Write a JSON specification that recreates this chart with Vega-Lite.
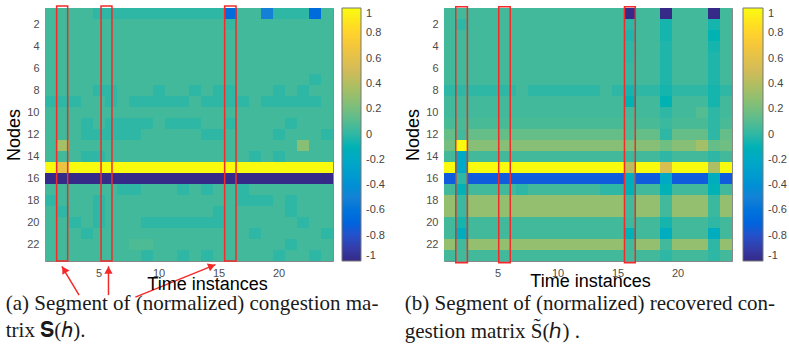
{
"$schema":"https://vega.github.io/schema/vega-lite/v6.json",
"background":"white",
"padding":{"left":5,"top":4,"right":2,"bottom":2},
"config":{
 "view":{"stroke":"#888888","strokeWidth":1,"fill":"#3fb89c"},
 "axis":{"domain":false,"ticks":false,"grid":false,"labelAngle":0,"labelFont":"Liberation Sans","labelFontSize":11,"labelColor":"#4d4d4d","labelPadding":6,"titleFont":"Liberation Sans","titleFontSize":18,"titleFontWeight":"normal","titleColor":"#000000"},
 "axisY":{"titlePadding":3},
 "title":{"font":"Liberation Serif","fontSize":21,"fontWeight":"normal","color":"#1a1a1a","lineHeight":27.5}
},
"datasets":{
"L":[
{"t":1,"n":1,"v":0.05},{"t":2,"n":1,"v":0.05},{"t":3,"n":1,"v":0.05},{"t":4,"n":1,"v":0.05},{"t":5,"n":1,"v":0},{"t":6,"n":1,"v":0},{"t":7,"n":1,"v":0},{"t":8,"n":1,"v":0},{"t":9,"n":1,"v":0},{"t":10,"n":1,"v":0},{"t":11,"n":1,"v":0},{"t":12,"n":1,"v":0},{"t":13,"n":1,"v":0},{"t":14,"n":1,"v":0},{"t":15,"n":1,"v":0},{"t":16,"n":1,"v":-0.65},{"t":17,"n":1,"v":0.05},{"t":18,"n":1,"v":0.05},{"t":19,"n":1,"v":-0.5},{"t":20,"n":1,"v":0},{"t":21,"n":1,"v":0},{"t":22,"n":1,"v":0},{"t":23,"n":1,"v":-0.65},{"t":24,"n":1,"v":0.05},
{"t":1,"n":2,"v":0.05},{"t":2,"n":2,"v":0.05},{"t":3,"n":2,"v":0.05},{"t":4,"n":2,"v":0.05},{"t":5,"n":2,"v":0.05},{"t":6,"n":2,"v":0.05},{"t":7,"n":2,"v":0.05},{"t":8,"n":2,"v":0.05},{"t":9,"n":2,"v":0.05},{"t":10,"n":2,"v":0.05},{"t":11,"n":2,"v":0.05},{"t":12,"n":2,"v":0.05},{"t":13,"n":2,"v":0.05},{"t":14,"n":2,"v":0.05},{"t":15,"n":2,"v":0.05},{"t":16,"n":2,"v":0.02},{"t":17,"n":2,"v":0.05},{"t":18,"n":2,"v":0.05},{"t":19,"n":2,"v":0.05},{"t":20,"n":2,"v":0.05},{"t":21,"n":2,"v":0.05},{"t":22,"n":2,"v":0.05},{"t":23,"n":2,"v":0.05},{"t":24,"n":2,"v":0.05},
{"t":1,"n":3,"v":0.05},{"t":2,"n":3,"v":0.05},{"t":3,"n":3,"v":0.05},{"t":4,"n":3,"v":0.05},{"t":5,"n":3,"v":0.05},{"t":6,"n":3,"v":0.05},{"t":7,"n":3,"v":0.05},{"t":8,"n":3,"v":0.05},{"t":9,"n":3,"v":0.05},{"t":10,"n":3,"v":0.05},{"t":11,"n":3,"v":0.05},{"t":12,"n":3,"v":0.05},{"t":13,"n":3,"v":0.05},{"t":14,"n":3,"v":0.05},{"t":15,"n":3,"v":0.05},{"t":16,"n":3,"v":0.05},{"t":17,"n":3,"v":0.05},{"t":18,"n":3,"v":0.05},{"t":19,"n":3,"v":0.05},{"t":20,"n":3,"v":0.05},{"t":21,"n":3,"v":0.05},{"t":22,"n":3,"v":0.05},{"t":23,"n":3,"v":0.05},{"t":24,"n":3,"v":0.05},
{"t":1,"n":4,"v":0.05},{"t":2,"n":4,"v":0.05},{"t":3,"n":4,"v":0.05},{"t":4,"n":4,"v":0.05},{"t":5,"n":4,"v":0.05},{"t":6,"n":4,"v":0.05},{"t":7,"n":4,"v":0.05},{"t":8,"n":4,"v":0.05},{"t":9,"n":4,"v":0.05},{"t":10,"n":4,"v":0.05},{"t":11,"n":4,"v":0.05},{"t":12,"n":4,"v":0.05},{"t":13,"n":4,"v":0.05},{"t":14,"n":4,"v":0.05},{"t":15,"n":4,"v":0.05},{"t":16,"n":4,"v":0.05},{"t":17,"n":4,"v":0.05},{"t":18,"n":4,"v":0.05},{"t":19,"n":4,"v":0.05},{"t":20,"n":4,"v":0.05},{"t":21,"n":4,"v":0.05},{"t":22,"n":4,"v":0.05},{"t":23,"n":4,"v":0.05},{"t":24,"n":4,"v":0.05},
{"t":1,"n":5,"v":0.05},{"t":2,"n":5,"v":0.05},{"t":3,"n":5,"v":0.05},{"t":4,"n":5,"v":0.05},{"t":5,"n":5,"v":0.05},{"t":6,"n":5,"v":0.05},{"t":7,"n":5,"v":0.05},{"t":8,"n":5,"v":0.05},{"t":9,"n":5,"v":0.05},{"t":10,"n":5,"v":0.05},{"t":11,"n":5,"v":0.05},{"t":12,"n":5,"v":0.05},{"t":13,"n":5,"v":0.05},{"t":14,"n":5,"v":0.05},{"t":15,"n":5,"v":0.05},{"t":16,"n":5,"v":0.05},{"t":17,"n":5,"v":0.05},{"t":18,"n":5,"v":0.05},{"t":19,"n":5,"v":0.05},{"t":20,"n":5,"v":0.05},{"t":21,"n":5,"v":0.05},{"t":22,"n":5,"v":0.05},{"t":23,"n":5,"v":0.05},{"t":24,"n":5,"v":0.05},
{"t":1,"n":6,"v":0.05},{"t":2,"n":6,"v":0.05},{"t":3,"n":6,"v":0.05},{"t":4,"n":6,"v":0.05},{"t":5,"n":6,"v":0.05},{"t":6,"n":6,"v":0.05},{"t":7,"n":6,"v":0.05},{"t":8,"n":6,"v":0.05},{"t":9,"n":6,"v":0.05},{"t":10,"n":6,"v":0.05},{"t":11,"n":6,"v":0.05},{"t":12,"n":6,"v":0.05},{"t":13,"n":6,"v":0.05},{"t":14,"n":6,"v":0.05},{"t":15,"n":6,"v":0.05},{"t":16,"n":6,"v":0.05},{"t":17,"n":6,"v":0.05},{"t":18,"n":6,"v":0.05},{"t":19,"n":6,"v":0.05},{"t":20,"n":6,"v":0.05},{"t":21,"n":6,"v":0.05},{"t":22,"n":6,"v":0.05},{"t":23,"n":6,"v":0.05},{"t":24,"n":6,"v":0.05},
{"t":1,"n":7,"v":0.05},{"t":2,"n":7,"v":0.05},{"t":3,"n":7,"v":0.05},{"t":4,"n":7,"v":0.05},{"t":5,"n":7,"v":0.05},{"t":6,"n":7,"v":0.05},{"t":7,"n":7,"v":0.05},{"t":8,"n":7,"v":0.05},{"t":9,"n":7,"v":0.05},{"t":10,"n":7,"v":0.05},{"t":11,"n":7,"v":0.05},{"t":12,"n":7,"v":0.05},{"t":13,"n":7,"v":0.05},{"t":14,"n":7,"v":0.05},{"t":15,"n":7,"v":0.05},{"t":16,"n":7,"v":0.05},{"t":17,"n":7,"v":0.05},{"t":18,"n":7,"v":0.05},{"t":19,"n":7,"v":0.05},{"t":20,"n":7,"v":0.05},{"t":21,"n":7,"v":0.05},{"t":22,"n":7,"v":0.05},{"t":23,"n":7,"v":0},{"t":24,"n":7,"v":0.05},
{"t":1,"n":8,"v":0.05},{"t":2,"n":8,"v":0.05},{"t":3,"n":8,"v":0.05},{"t":4,"n":8,"v":0.05},{"t":5,"n":8,"v":0},{"t":6,"n":8,"v":0},{"t":7,"n":8,"v":0.05},{"t":8,"n":8,"v":0.05},{"t":9,"n":8,"v":0.05},{"t":10,"n":8,"v":0},{"t":11,"n":8,"v":0.05},{"t":12,"n":8,"v":0.05},{"t":13,"n":8,"v":0},{"t":14,"n":8,"v":0.05},{"t":15,"n":8,"v":0},{"t":16,"n":8,"v":0},{"t":17,"n":8,"v":0.05},{"t":18,"n":8,"v":0.05},{"t":19,"n":8,"v":0.05},{"t":20,"n":8,"v":0},{"t":21,"n":8,"v":0.05},{"t":22,"n":8,"v":0},{"t":23,"n":8,"v":0.05},{"t":24,"n":8,"v":0.05},
{"t":1,"n":9,"v":0},{"t":2,"n":9,"v":0},{"t":3,"n":9,"v":0},{"t":4,"n":9,"v":0.05},{"t":5,"n":9,"v":0.05},{"t":6,"n":9,"v":0},{"t":7,"n":9,"v":0.05},{"t":8,"n":9,"v":0},{"t":9,"n":9,"v":0},{"t":10,"n":9,"v":0},{"t":11,"n":9,"v":0},{"t":12,"n":9,"v":0},{"t":13,"n":9,"v":0.05},{"t":14,"n":9,"v":0},{"t":15,"n":9,"v":0},{"t":16,"n":9,"v":0},{"t":17,"n":9,"v":0},{"t":18,"n":9,"v":0.05},{"t":19,"n":9,"v":0},{"t":20,"n":9,"v":0},{"t":21,"n":9,"v":0},{"t":22,"n":9,"v":0},{"t":23,"n":9,"v":0},{"t":24,"n":9,"v":0.05},
{"t":1,"n":10,"v":0.05},{"t":2,"n":10,"v":0.05},{"t":3,"n":10,"v":0.05},{"t":4,"n":10,"v":0.05},{"t":5,"n":10,"v":0.05},{"t":6,"n":10,"v":0.05},{"t":7,"n":10,"v":0.05},{"t":8,"n":10,"v":0.05},{"t":9,"n":10,"v":0.05},{"t":10,"n":10,"v":0.05},{"t":11,"n":10,"v":0.05},{"t":12,"n":10,"v":0.05},{"t":13,"n":10,"v":0.05},{"t":14,"n":10,"v":0.05},{"t":15,"n":10,"v":0.05},{"t":16,"n":10,"v":0.05},{"t":17,"n":10,"v":0.05},{"t":18,"n":10,"v":0.05},{"t":19,"n":10,"v":0.05},{"t":20,"n":10,"v":0.05},{"t":21,"n":10,"v":0.05},{"t":22,"n":10,"v":0.05},{"t":23,"n":10,"v":0.05},{"t":24,"n":10,"v":0.05},
{"t":1,"n":11,"v":0.05},{"t":2,"n":11,"v":0.05},{"t":3,"n":11,"v":0.05},{"t":4,"n":11,"v":0},{"t":5,"n":11,"v":0.05},{"t":6,"n":11,"v":0},{"t":7,"n":11,"v":0},{"t":8,"n":11,"v":0},{"t":9,"n":11,"v":0},{"t":10,"n":11,"v":0.05},{"t":11,"n":11,"v":0},{"t":12,"n":11,"v":0},{"t":13,"n":11,"v":0},{"t":14,"n":11,"v":0.05},{"t":15,"n":11,"v":0.05},{"t":16,"n":11,"v":0},{"t":17,"n":11,"v":0.05},{"t":18,"n":11,"v":0.05},{"t":19,"n":11,"v":0.05},{"t":20,"n":11,"v":0.05},{"t":21,"n":11,"v":0},{"t":22,"n":11,"v":0.05},{"t":23,"n":11,"v":0.05},{"t":24,"n":11,"v":0.05},
{"t":1,"n":12,"v":0.05},{"t":2,"n":12,"v":0.05},{"t":3,"n":12,"v":0.05},{"t":4,"n":12,"v":0},{"t":5,"n":12,"v":0},{"t":6,"n":12,"v":0},{"t":7,"n":12,"v":0},{"t":8,"n":12,"v":0},{"t":9,"n":12,"v":0.05},{"t":10,"n":12,"v":0.05},{"t":11,"n":12,"v":0.05},{"t":12,"n":12,"v":0.05},{"t":13,"n":12,"v":0.05},{"t":14,"n":12,"v":0},{"t":15,"n":12,"v":0},{"t":16,"n":12,"v":0.05},{"t":17,"n":12,"v":0.05},{"t":18,"n":12,"v":0.05},{"t":19,"n":12,"v":0.05},{"t":20,"n":12,"v":0},{"t":21,"n":12,"v":0.05},{"t":22,"n":12,"v":0.05},{"t":23,"n":12,"v":0.05},{"t":24,"n":12,"v":0},
{"t":1,"n":13,"v":0.05},{"t":2,"n":13,"v":0.35},{"t":3,"n":13,"v":0.05},{"t":4,"n":13,"v":0.05},{"t":5,"n":13,"v":0.05},{"t":6,"n":13,"v":0.05},{"t":7,"n":13,"v":0.05},{"t":8,"n":13,"v":0.05},{"t":9,"n":13,"v":0.05},{"t":10,"n":13,"v":0.05},{"t":11,"n":13,"v":0.05},{"t":12,"n":13,"v":0.05},{"t":13,"n":13,"v":0.05},{"t":14,"n":13,"v":0.05},{"t":15,"n":13,"v":0.05},{"t":16,"n":13,"v":0.05},{"t":17,"n":13,"v":0.05},{"t":18,"n":13,"v":0.05},{"t":19,"n":13,"v":0.05},{"t":20,"n":13,"v":0.05},{"t":21,"n":13,"v":0.05},{"t":22,"n":13,"v":0.25},{"t":23,"n":13,"v":0.05},{"t":24,"n":13,"v":0.05},
{"t":1,"n":14,"v":0.05},{"t":2,"n":14,"v":0.05},{"t":3,"n":14,"v":0.05},{"t":4,"n":14,"v":0},{"t":5,"n":14,"v":0},{"t":6,"n":14,"v":0.05},{"t":7,"n":14,"v":0.05},{"t":8,"n":14,"v":0.05},{"t":9,"n":14,"v":0.05},{"t":10,"n":14,"v":0.05},{"t":11,"n":14,"v":0.05},{"t":12,"n":14,"v":0.05},{"t":13,"n":14,"v":0.05},{"t":14,"n":14,"v":0.05},{"t":15,"n":14,"v":0.05},{"t":16,"n":14,"v":0.05},{"t":17,"n":14,"v":0.05},{"t":18,"n":14,"v":0},{"t":19,"n":14,"v":0.05},{"t":20,"n":14,"v":0},{"t":21,"n":14,"v":0.05},{"t":22,"n":14,"v":0.05},{"t":23,"n":14,"v":0.05},{"t":24,"n":14,"v":0.05},
{"t":1,"n":15,"v":1},{"t":2,"n":15,"v":0.65},{"t":3,"n":15,"v":1},{"t":4,"n":15,"v":1},{"t":5,"n":15,"v":1},{"t":6,"n":15,"v":1},{"t":7,"n":15,"v":1},{"t":8,"n":15,"v":1},{"t":9,"n":15,"v":1},{"t":10,"n":15,"v":1},{"t":11,"n":15,"v":1},{"t":12,"n":15,"v":1},{"t":13,"n":15,"v":1},{"t":14,"n":15,"v":1},{"t":15,"n":15,"v":1},{"t":16,"n":15,"v":1},{"t":17,"n":15,"v":1},{"t":18,"n":15,"v":1},{"t":19,"n":15,"v":1},{"t":20,"n":15,"v":1},{"t":21,"n":15,"v":1},{"t":22,"n":15,"v":1},{"t":23,"n":15,"v":1},{"t":24,"n":15,"v":1},
{"t":1,"n":16,"v":-1},{"t":2,"n":16,"v":-1},{"t":3,"n":16,"v":-1},{"t":4,"n":16,"v":-1},{"t":5,"n":16,"v":-1},{"t":6,"n":16,"v":-1},{"t":7,"n":16,"v":-1},{"t":8,"n":16,"v":-1},{"t":9,"n":16,"v":-1},{"t":10,"n":16,"v":-1},{"t":11,"n":16,"v":-1},{"t":12,"n":16,"v":-1},{"t":13,"n":16,"v":-1},{"t":14,"n":16,"v":-1},{"t":15,"n":16,"v":-1},{"t":16,"n":16,"v":-1},{"t":17,"n":16,"v":-1},{"t":18,"n":16,"v":-1},{"t":19,"n":16,"v":-1},{"t":20,"n":16,"v":-1},{"t":21,"n":16,"v":-1},{"t":22,"n":16,"v":-1},{"t":23,"n":16,"v":-1},{"t":24,"n":16,"v":-1},
{"t":1,"n":17,"v":0.05},{"t":2,"n":17,"v":0.05},{"t":3,"n":17,"v":0.05},{"t":4,"n":17,"v":0.05},{"t":5,"n":17,"v":0.05},{"t":6,"n":17,"v":0.05},{"t":7,"n":17,"v":0},{"t":8,"n":17,"v":0},{"t":9,"n":17,"v":0.05},{"t":10,"n":17,"v":0.05},{"t":11,"n":17,"v":0.05},{"t":12,"n":17,"v":0},{"t":13,"n":17,"v":0.05},{"t":14,"n":17,"v":0},{"t":15,"n":17,"v":0.05},{"t":16,"n":17,"v":0.05},{"t":17,"n":17,"v":0},{"t":18,"n":17,"v":0.05},{"t":19,"n":17,"v":0.05},{"t":20,"n":17,"v":0.05},{"t":21,"n":17,"v":0.05},{"t":22,"n":17,"v":0.05},{"t":23,"n":17,"v":0.05},{"t":24,"n":17,"v":0.05},
{"t":1,"n":18,"v":0},{"t":2,"n":18,"v":0.05},{"t":3,"n":18,"v":0.05},{"t":4,"n":18,"v":0.05},{"t":5,"n":18,"v":0},{"t":6,"n":18,"v":0.05},{"t":7,"n":18,"v":0.05},{"t":8,"n":18,"v":0.05},{"t":9,"n":18,"v":0.05},{"t":10,"n":18,"v":0.05},{"t":11,"n":18,"v":0.05},{"t":12,"n":18,"v":0.05},{"t":13,"n":18,"v":0.05},{"t":14,"n":18,"v":0.05},{"t":15,"n":18,"v":0.05},{"t":16,"n":18,"v":0.05},{"t":17,"n":18,"v":0},{"t":18,"n":18,"v":0},{"t":19,"n":18,"v":0},{"t":20,"n":18,"v":0.05},{"t":21,"n":18,"v":0},{"t":22,"n":18,"v":0.05},{"t":23,"n":18,"v":0.05},{"t":24,"n":18,"v":0.05},
{"t":1,"n":19,"v":0.05},{"t":2,"n":19,"v":0},{"t":3,"n":19,"v":0.05},{"t":4,"n":19,"v":0.05},{"t":5,"n":19,"v":0},{"t":6,"n":19,"v":0.05},{"t":7,"n":19,"v":0.05},{"t":8,"n":19,"v":0.05},{"t":9,"n":19,"v":0.05},{"t":10,"n":19,"v":0.05},{"t":11,"n":19,"v":0.05},{"t":12,"n":19,"v":0.05},{"t":13,"n":19,"v":0.05},{"t":14,"n":19,"v":0.05},{"t":15,"n":19,"v":0},{"t":16,"n":19,"v":0.05},{"t":17,"n":19,"v":0.05},{"t":18,"n":19,"v":0.05},{"t":19,"n":19,"v":0.05},{"t":20,"n":19,"v":0.05},{"t":21,"n":19,"v":0},{"t":22,"n":19,"v":0.05},{"t":23,"n":19,"v":0.05},{"t":24,"n":19,"v":0.05},
{"t":1,"n":20,"v":0.05},{"t":2,"n":20,"v":0.05},{"t":3,"n":20,"v":0},{"t":4,"n":20,"v":0.05},{"t":5,"n":20,"v":0},{"t":6,"n":20,"v":0.05},{"t":7,"n":20,"v":0.05},{"t":8,"n":20,"v":0.05},{"t":9,"n":20,"v":0},{"t":10,"n":20,"v":0},{"t":11,"n":20,"v":0},{"t":12,"n":20,"v":0},{"t":13,"n":20,"v":0},{"t":14,"n":20,"v":0},{"t":15,"n":20,"v":0},{"t":16,"n":20,"v":0.05},{"t":17,"n":20,"v":0.05},{"t":18,"n":20,"v":0.05},{"t":19,"n":20,"v":0.05},{"t":20,"n":20,"v":0.05},{"t":21,"n":20,"v":0.05},{"t":22,"n":20,"v":0},{"t":23,"n":20,"v":0.05},{"t":24,"n":20,"v":0.05},
{"t":1,"n":21,"v":0.05},{"t":2,"n":21,"v":0.05},{"t":3,"n":21,"v":0.05},{"t":4,"n":21,"v":0},{"t":5,"n":21,"v":0.05},{"t":6,"n":21,"v":0.05},{"t":7,"n":21,"v":0.05},{"t":8,"n":21,"v":0.05},{"t":9,"n":21,"v":0.05},{"t":10,"n":21,"v":0.05},{"t":11,"n":21,"v":0.05},{"t":12,"n":21,"v":0.05},{"t":13,"n":21,"v":0.05},{"t":14,"n":21,"v":0.05},{"t":15,"n":21,"v":0.05},{"t":16,"n":21,"v":0.05},{"t":17,"n":21,"v":0.05},{"t":18,"n":21,"v":0},{"t":19,"n":21,"v":0.05},{"t":20,"n":21,"v":0.05},{"t":21,"n":21,"v":0.05},{"t":22,"n":21,"v":0.05},{"t":23,"n":21,"v":0.05},{"t":24,"n":21,"v":0},
{"t":1,"n":22,"v":0.05},{"t":2,"n":22,"v":0.05},{"t":3,"n":22,"v":0.05},{"t":4,"n":22,"v":0.05},{"t":5,"n":22,"v":0.05},{"t":6,"n":22,"v":0.05},{"t":7,"n":22,"v":0.05},{"t":8,"n":22,"v":0.08},{"t":9,"n":22,"v":0.08},{"t":10,"n":22,"v":0.05},{"t":11,"n":22,"v":0.05},{"t":12,"n":22,"v":0.05},{"t":13,"n":22,"v":0.05},{"t":14,"n":22,"v":0.05},{"t":15,"n":22,"v":0.05},{"t":16,"n":22,"v":0.05},{"t":17,"n":22,"v":0.05},{"t":18,"n":22,"v":0.05},{"t":19,"n":22,"v":0.05},{"t":20,"n":22,"v":0.05},{"t":21,"n":22,"v":0},{"t":22,"n":22,"v":0.05},{"t":23,"n":22,"v":0.05},{"t":24,"n":22,"v":0.05},
{"t":1,"n":23,"v":0.05},{"t":2,"n":23,"v":0.05},{"t":3,"n":23,"v":0.05},{"t":4,"n":23,"v":0.05},{"t":5,"n":23,"v":0.05},{"t":6,"n":23,"v":0.05},{"t":7,"n":23,"v":0.05},{"t":8,"n":23,"v":0.05},{"t":9,"n":23,"v":0},{"t":10,"n":23,"v":0.05},{"t":11,"n":23,"v":0.05},{"t":12,"n":23,"v":0},{"t":13,"n":23,"v":0.05},{"t":14,"n":23,"v":0},{"t":15,"n":23,"v":0.05},{"t":16,"n":23,"v":0.05},{"t":17,"n":23,"v":0.05},{"t":18,"n":23,"v":0.05},{"t":19,"n":23,"v":0.05},{"t":20,"n":23,"v":0},{"t":21,"n":23,"v":0.05},{"t":22,"n":23,"v":0.05},{"t":23,"n":23,"v":0},{"t":24,"n":23,"v":0.05}
],
"R":[
{"t":1,"n":1,"v":0.05},{"t":2,"n":1,"v":0.05},{"t":3,"n":1,"v":0.05},{"t":4,"n":1,"v":0.05},{"t":5,"n":1,"v":0.05},{"t":6,"n":1,"v":0.05},{"t":7,"n":1,"v":0.05},{"t":8,"n":1,"v":0.05},{"t":9,"n":1,"v":0.05},{"t":10,"n":1,"v":0.05},{"t":11,"n":1,"v":0.05},{"t":12,"n":1,"v":0.05},{"t":13,"n":1,"v":0.05},{"t":14,"n":1,"v":0.05},{"t":15,"n":1,"v":0.05},{"t":16,"n":1,"v":-1},{"t":17,"n":1,"v":0.05},{"t":18,"n":1,"v":0.05},{"t":19,"n":1,"v":-1},{"t":20,"n":1,"v":0.05},{"t":21,"n":1,"v":0.05},{"t":22,"n":1,"v":0.05},{"t":23,"n":1,"v":-1},{"t":24,"n":1,"v":0.05},
{"t":1,"n":2,"v":0.05},{"t":2,"n":2,"v":0},{"t":3,"n":2,"v":0.05},{"t":4,"n":2,"v":0.05},{"t":5,"n":2,"v":0.05},{"t":6,"n":2,"v":0.05},{"t":7,"n":2,"v":0.05},{"t":8,"n":2,"v":0.05},{"t":9,"n":2,"v":0.05},{"t":10,"n":2,"v":0.05},{"t":11,"n":2,"v":0.05},{"t":12,"n":2,"v":0.05},{"t":13,"n":2,"v":0.05},{"t":14,"n":2,"v":0.05},{"t":15,"n":2,"v":0.05},{"t":16,"n":2,"v":0},{"t":17,"n":2,"v":0.05},{"t":18,"n":2,"v":0.05},{"t":19,"n":2,"v":-0.05},{"t":20,"n":2,"v":0.05},{"t":21,"n":2,"v":0.05},{"t":22,"n":2,"v":0.05},{"t":23,"n":2,"v":-0.05},{"t":24,"n":2,"v":0.05},
{"t":1,"n":3,"v":0.05},{"t":2,"n":3,"v":0.05},{"t":3,"n":3,"v":0.05},{"t":4,"n":3,"v":0.05},{"t":5,"n":3,"v":0.05},{"t":6,"n":3,"v":0.05},{"t":7,"n":3,"v":0.05},{"t":8,"n":3,"v":0.05},{"t":9,"n":3,"v":0.05},{"t":10,"n":3,"v":0.05},{"t":11,"n":3,"v":0.05},{"t":12,"n":3,"v":0.05},{"t":13,"n":3,"v":0.05},{"t":14,"n":3,"v":0.05},{"t":15,"n":3,"v":0.05},{"t":16,"n":3,"v":-0.03},{"t":17,"n":3,"v":0.05},{"t":18,"n":3,"v":0.05},{"t":19,"n":3,"v":-0.05},{"t":20,"n":3,"v":0.05},{"t":21,"n":3,"v":0.05},{"t":22,"n":3,"v":0.05},{"t":23,"n":3,"v":-0.08},{"t":24,"n":3,"v":0.05},
{"t":1,"n":4,"v":0.05},{"t":2,"n":4,"v":0.05},{"t":3,"n":4,"v":0.05},{"t":4,"n":4,"v":0.05},{"t":5,"n":4,"v":0.05},{"t":6,"n":4,"v":0.05},{"t":7,"n":4,"v":0.05},{"t":8,"n":4,"v":0.05},{"t":9,"n":4,"v":0.05},{"t":10,"n":4,"v":0.05},{"t":11,"n":4,"v":0.05},{"t":12,"n":4,"v":0.05},{"t":13,"n":4,"v":0.05},{"t":14,"n":4,"v":0.05},{"t":15,"n":4,"v":0.05},{"t":16,"n":4,"v":0},{"t":17,"n":4,"v":0.05},{"t":18,"n":4,"v":0.05},{"t":19,"n":4,"v":-0.03},{"t":20,"n":4,"v":0.05},{"t":21,"n":4,"v":0.05},{"t":22,"n":4,"v":0.05},{"t":23,"n":4,"v":-0.05},{"t":24,"n":4,"v":0.05},
{"t":1,"n":5,"v":0.05},{"t":2,"n":5,"v":0.05},{"t":3,"n":5,"v":0.05},{"t":4,"n":5,"v":0.05},{"t":5,"n":5,"v":0.05},{"t":6,"n":5,"v":0.05},{"t":7,"n":5,"v":0.05},{"t":8,"n":5,"v":0.05},{"t":9,"n":5,"v":0.05},{"t":10,"n":5,"v":0.05},{"t":11,"n":5,"v":0.05},{"t":12,"n":5,"v":0.05},{"t":13,"n":5,"v":0.05},{"t":14,"n":5,"v":0.05},{"t":15,"n":5,"v":0.05},{"t":16,"n":5,"v":0},{"t":17,"n":5,"v":0.05},{"t":18,"n":5,"v":0.05},{"t":19,"n":5,"v":-0.03},{"t":20,"n":5,"v":0.05},{"t":21,"n":5,"v":0.05},{"t":22,"n":5,"v":0.05},{"t":23,"n":5,"v":-0.03},{"t":24,"n":5,"v":0.05},
{"t":1,"n":6,"v":0.05},{"t":2,"n":6,"v":0.05},{"t":3,"n":6,"v":0.05},{"t":4,"n":6,"v":0.05},{"t":5,"n":6,"v":0.05},{"t":6,"n":6,"v":0.05},{"t":7,"n":6,"v":0.05},{"t":8,"n":6,"v":0.05},{"t":9,"n":6,"v":0.05},{"t":10,"n":6,"v":0.05},{"t":11,"n":6,"v":0.05},{"t":12,"n":6,"v":0.05},{"t":13,"n":6,"v":0.05},{"t":14,"n":6,"v":0.05},{"t":15,"n":6,"v":0.05},{"t":16,"n":6,"v":0.02},{"t":17,"n":6,"v":0.05},{"t":18,"n":6,"v":0.05},{"t":19,"n":6,"v":-0.03},{"t":20,"n":6,"v":0.05},{"t":21,"n":6,"v":0.05},{"t":22,"n":6,"v":0.05},{"t":23,"n":6,"v":-0.03},{"t":24,"n":6,"v":0.05},
{"t":1,"n":7,"v":0.05},{"t":2,"n":7,"v":0.05},{"t":3,"n":7,"v":0.05},{"t":4,"n":7,"v":0.05},{"t":5,"n":7,"v":0.05},{"t":6,"n":7,"v":0.05},{"t":7,"n":7,"v":0.05},{"t":8,"n":7,"v":0.05},{"t":9,"n":7,"v":0.05},{"t":10,"n":7,"v":0.05},{"t":11,"n":7,"v":0.05},{"t":12,"n":7,"v":0.05},{"t":13,"n":7,"v":0.05},{"t":14,"n":7,"v":0.05},{"t":15,"n":7,"v":0.05},{"t":16,"n":7,"v":0.02},{"t":17,"n":7,"v":0.05},{"t":18,"n":7,"v":0.05},{"t":19,"n":7,"v":-0.03},{"t":20,"n":7,"v":0.05},{"t":21,"n":7,"v":0.05},{"t":22,"n":7,"v":0.05},{"t":23,"n":7,"v":-0.03},{"t":24,"n":7,"v":0.05},
{"t":1,"n":8,"v":0},{"t":2,"n":8,"v":0},{"t":3,"n":8,"v":0},{"t":4,"n":8,"v":0},{"t":5,"n":8,"v":0},{"t":6,"n":8,"v":0},{"t":7,"n":8,"v":0.05},{"t":8,"n":8,"v":0},{"t":9,"n":8,"v":0},{"t":10,"n":8,"v":0},{"t":11,"n":8,"v":0},{"t":12,"n":8,"v":0},{"t":13,"n":8,"v":0},{"t":14,"n":8,"v":0.05},{"t":15,"n":8,"v":0},{"t":16,"n":8,"v":-0.05},{"t":17,"n":8,"v":0},{"t":18,"n":8,"v":0},{"t":19,"n":8,"v":-0.05},{"t":20,"n":8,"v":0},{"t":21,"n":8,"v":0},{"t":22,"n":8,"v":0},{"t":23,"n":8,"v":-0.05},{"t":24,"n":8,"v":0},
{"t":1,"n":9,"v":0.05},{"t":2,"n":9,"v":0.05},{"t":3,"n":9,"v":0.05},{"t":4,"n":9,"v":0.05},{"t":5,"n":9,"v":0.05},{"t":6,"n":9,"v":0.05},{"t":7,"n":9,"v":0.05},{"t":8,"n":9,"v":0.05},{"t":9,"n":9,"v":0.05},{"t":10,"n":9,"v":0.05},{"t":11,"n":9,"v":0.05},{"t":12,"n":9,"v":0.05},{"t":13,"n":9,"v":0.05},{"t":14,"n":9,"v":0.05},{"t":15,"n":9,"v":0.05},{"t":16,"n":9,"v":-0.08},{"t":17,"n":9,"v":0.05},{"t":18,"n":9,"v":0.05},{"t":19,"n":9,"v":-0.08},{"t":20,"n":9,"v":0.05},{"t":21,"n":9,"v":0.05},{"t":22,"n":9,"v":0.05},{"t":23,"n":9,"v":-0.05},{"t":24,"n":9,"v":0.05},
{"t":1,"n":10,"v":0.05},{"t":2,"n":10,"v":0.05},{"t":3,"n":10,"v":0.05},{"t":4,"n":10,"v":0.05},{"t":5,"n":10,"v":0.05},{"t":6,"n":10,"v":0.05},{"t":7,"n":10,"v":0.05},{"t":8,"n":10,"v":0.05},{"t":9,"n":10,"v":0.05},{"t":10,"n":10,"v":0.05},{"t":11,"n":10,"v":0.05},{"t":12,"n":10,"v":0.05},{"t":13,"n":10,"v":0.05},{"t":14,"n":10,"v":0.05},{"t":15,"n":10,"v":0.05},{"t":16,"n":10,"v":0.05},{"t":17,"n":10,"v":0.05},{"t":18,"n":10,"v":0.05},{"t":19,"n":10,"v":0},{"t":20,"n":10,"v":0.05},{"t":21,"n":10,"v":0.05},{"t":22,"n":10,"v":0.1},{"t":23,"n":10,"v":0},{"t":24,"n":10,"v":0.05},
{"t":1,"n":11,"v":0.07},{"t":2,"n":11,"v":0.07},{"t":3,"n":11,"v":0.07},{"t":4,"n":11,"v":0.07},{"t":5,"n":11,"v":0.07},{"t":6,"n":11,"v":0.07},{"t":7,"n":11,"v":0.07},{"t":8,"n":11,"v":0.07},{"t":9,"n":11,"v":0.07},{"t":10,"n":11,"v":0.07},{"t":11,"n":11,"v":0.07},{"t":12,"n":11,"v":0.07},{"t":13,"n":11,"v":0.07},{"t":14,"n":11,"v":0.07},{"t":15,"n":11,"v":0.07},{"t":16,"n":11,"v":0.07},{"t":17,"n":11,"v":0.07},{"t":18,"n":11,"v":0.07},{"t":19,"n":11,"v":0.03},{"t":20,"n":11,"v":0.07},{"t":21,"n":11,"v":0.07},{"t":22,"n":11,"v":0.07},{"t":23,"n":11,"v":0},{"t":24,"n":11,"v":0.07},
{"t":1,"n":12,"v":0.15},{"t":2,"n":12,"v":0.05},{"t":3,"n":12,"v":0.15},{"t":4,"n":12,"v":0.15},{"t":5,"n":12,"v":0.15},{"t":6,"n":12,"v":0.15},{"t":7,"n":12,"v":0.15},{"t":8,"n":12,"v":0.15},{"t":9,"n":12,"v":0.15},{"t":10,"n":12,"v":0.15},{"t":11,"n":12,"v":0.15},{"t":12,"n":12,"v":0.15},{"t":13,"n":12,"v":0.15},{"t":14,"n":12,"v":0.15},{"t":15,"n":12,"v":0.15},{"t":16,"n":12,"v":0.08},{"t":17,"n":12,"v":0.15},{"t":18,"n":12,"v":0.15},{"t":19,"n":12,"v":0},{"t":20,"n":12,"v":0.15},{"t":21,"n":12,"v":0.15},{"t":22,"n":12,"v":0.15},{"t":23,"n":12,"v":0},{"t":24,"n":12,"v":0.15},
{"t":1,"n":13,"v":0.2},{"t":2,"n":13,"v":1},{"t":3,"n":13,"v":0.25},{"t":4,"n":13,"v":0.25},{"t":5,"n":13,"v":0.25},{"t":6,"n":13,"v":0.25},{"t":7,"n":13,"v":0.25},{"t":8,"n":13,"v":0.25},{"t":9,"n":13,"v":0.25},{"t":10,"n":13,"v":0.25},{"t":11,"n":13,"v":0.25},{"t":12,"n":13,"v":0.25},{"t":13,"n":13,"v":0.25},{"t":14,"n":13,"v":0.25},{"t":15,"n":13,"v":0.25},{"t":16,"n":13,"v":0.22},{"t":17,"n":13,"v":0.25},{"t":18,"n":13,"v":0.25},{"t":19,"n":13,"v":0.18},{"t":20,"n":13,"v":0.25},{"t":21,"n":13,"v":0.25},{"t":22,"n":13,"v":0.35},{"t":23,"n":13,"v":0.15},{"t":24,"n":13,"v":0.18},
{"t":1,"n":14,"v":0.05},{"t":2,"n":14,"v":-0.2},{"t":3,"n":14,"v":0.05},{"t":4,"n":14,"v":0.05},{"t":5,"n":14,"v":0.05},{"t":6,"n":14,"v":0.05},{"t":7,"n":14,"v":0.05},{"t":8,"n":14,"v":0.05},{"t":9,"n":14,"v":0.05},{"t":10,"n":14,"v":0.05},{"t":11,"n":14,"v":0.05},{"t":12,"n":14,"v":0.05},{"t":13,"n":14,"v":0.05},{"t":14,"n":14,"v":0.05},{"t":15,"n":14,"v":0.05},{"t":16,"n":14,"v":0.03},{"t":17,"n":14,"v":0.05},{"t":18,"n":14,"v":0.05},{"t":19,"n":14,"v":0},{"t":20,"n":14,"v":0.05},{"t":21,"n":14,"v":0.05},{"t":22,"n":14,"v":0.05},{"t":23,"n":14,"v":0},{"t":24,"n":14,"v":0.05},
{"t":1,"n":15,"v":1},{"t":2,"n":15,"v":-0.2},{"t":3,"n":15,"v":1},{"t":4,"n":15,"v":1},{"t":5,"n":15,"v":1},{"t":6,"n":15,"v":1},{"t":7,"n":15,"v":1},{"t":8,"n":15,"v":1},{"t":9,"n":15,"v":1},{"t":10,"n":15,"v":1},{"t":11,"n":15,"v":1},{"t":12,"n":15,"v":1},{"t":13,"n":15,"v":1},{"t":14,"n":15,"v":1},{"t":15,"n":15,"v":1},{"t":16,"n":15,"v":0.42},{"t":17,"n":15,"v":1},{"t":18,"n":15,"v":1},{"t":19,"n":15,"v":0.55},{"t":20,"n":15,"v":1},{"t":21,"n":15,"v":1},{"t":22,"n":15,"v":1},{"t":23,"n":15,"v":0.38},{"t":24,"n":15,"v":1},
{"t":1,"n":16,"v":-0.75},{"t":2,"n":16,"v":0},{"t":3,"n":16,"v":-0.75},{"t":4,"n":16,"v":-0.75},{"t":5,"n":16,"v":-0.75},{"t":6,"n":16,"v":-0.75},{"t":7,"n":16,"v":-0.75},{"t":8,"n":16,"v":-0.75},{"t":9,"n":16,"v":-0.75},{"t":10,"n":16,"v":-0.75},{"t":11,"n":16,"v":-0.75},{"t":12,"n":16,"v":-0.75},{"t":13,"n":16,"v":-0.75},{"t":14,"n":16,"v":-0.75},{"t":15,"n":16,"v":-0.75},{"t":16,"n":16,"v":-0.15},{"t":17,"n":16,"v":-0.75},{"t":18,"n":16,"v":-0.75},{"t":19,"n":16,"v":-0.2},{"t":20,"n":16,"v":-0.75},{"t":21,"n":16,"v":-0.75},{"t":22,"n":16,"v":-0.75},{"t":23,"n":16,"v":-0.15},{"t":24,"n":16,"v":-0.75},
{"t":1,"n":17,"v":0.05},{"t":2,"n":17,"v":-0.1},{"t":3,"n":17,"v":0.05},{"t":4,"n":17,"v":0.05},{"t":5,"n":17,"v":0.05},{"t":6,"n":17,"v":0.05},{"t":7,"n":17,"v":0},{"t":8,"n":17,"v":0.05},{"t":9,"n":17,"v":0.05},{"t":10,"n":17,"v":0.05},{"t":11,"n":17,"v":0.05},{"t":12,"n":17,"v":0.05},{"t":13,"n":17,"v":0.05},{"t":14,"n":17,"v":0},{"t":15,"n":17,"v":0},{"t":16,"n":17,"v":-0.1},{"t":17,"n":17,"v":0.05},{"t":18,"n":17,"v":0.05},{"t":19,"n":17,"v":-0.1},{"t":20,"n":17,"v":0.05},{"t":21,"n":17,"v":0.05},{"t":22,"n":17,"v":0.05},{"t":23,"n":17,"v":-0.1},{"t":24,"n":17,"v":0.05},
{"t":1,"n":18,"v":0.3},{"t":2,"n":18,"v":0.03},{"t":3,"n":18,"v":0.3},{"t":4,"n":18,"v":0.3},{"t":5,"n":18,"v":0.3},{"t":6,"n":18,"v":0.3},{"t":7,"n":18,"v":0.3},{"t":8,"n":18,"v":0.3},{"t":9,"n":18,"v":0.3},{"t":10,"n":18,"v":0.3},{"t":11,"n":18,"v":0.3},{"t":12,"n":18,"v":0.3},{"t":13,"n":18,"v":0.3},{"t":14,"n":18,"v":0.3},{"t":15,"n":18,"v":0.3},{"t":16,"n":18,"v":0.05},{"t":17,"n":18,"v":0.3},{"t":18,"n":18,"v":0.3},{"t":19,"n":18,"v":0.05},{"t":20,"n":18,"v":0.3},{"t":21,"n":18,"v":0.3},{"t":22,"n":18,"v":0.3},{"t":23,"n":18,"v":0.03},{"t":24,"n":18,"v":0.3},
{"t":1,"n":19,"v":0.3},{"t":2,"n":19,"v":0.03},{"t":3,"n":19,"v":0.3},{"t":4,"n":19,"v":0.3},{"t":5,"n":19,"v":0.3},{"t":6,"n":19,"v":0.3},{"t":7,"n":19,"v":0.3},{"t":8,"n":19,"v":0.3},{"t":9,"n":19,"v":0.3},{"t":10,"n":19,"v":0.3},{"t":11,"n":19,"v":0.3},{"t":12,"n":19,"v":0.3},{"t":13,"n":19,"v":0.3},{"t":14,"n":19,"v":0.3},{"t":15,"n":19,"v":0.3},{"t":16,"n":19,"v":0.05},{"t":17,"n":19,"v":0.3},{"t":18,"n":19,"v":0.3},{"t":19,"n":19,"v":0.05},{"t":20,"n":19,"v":0.3},{"t":21,"n":19,"v":0.3},{"t":22,"n":19,"v":0.3},{"t":23,"n":19,"v":0.03},{"t":24,"n":19,"v":0.3},
{"t":1,"n":20,"v":0.05},{"t":2,"n":20,"v":-0.05},{"t":3,"n":20,"v":0.05},{"t":4,"n":20,"v":0.05},{"t":5,"n":20,"v":0.05},{"t":6,"n":20,"v":0.05},{"t":7,"n":20,"v":0.05},{"t":8,"n":20,"v":0.05},{"t":9,"n":20,"v":0.05},{"t":10,"n":20,"v":0.05},{"t":11,"n":20,"v":0.05},{"t":12,"n":20,"v":0.05},{"t":13,"n":20,"v":0.05},{"t":14,"n":20,"v":0.05},{"t":15,"n":20,"v":0.05},{"t":16,"n":20,"v":0.03},{"t":17,"n":20,"v":0.05},{"t":18,"n":20,"v":0.05},{"t":19,"n":20,"v":-0.05},{"t":20,"n":20,"v":0.05},{"t":21,"n":20,"v":0.05},{"t":22,"n":20,"v":0.05},{"t":23,"n":20,"v":0},{"t":24,"n":20,"v":0.05},
{"t":1,"n":21,"v":0.05},{"t":2,"n":21,"v":-0.15},{"t":3,"n":21,"v":0.05},{"t":4,"n":21,"v":0.05},{"t":5,"n":21,"v":0.05},{"t":6,"n":21,"v":0.05},{"t":7,"n":21,"v":0.05},{"t":8,"n":21,"v":0.05},{"t":9,"n":21,"v":0.05},{"t":10,"n":21,"v":0.05},{"t":11,"n":21,"v":0.05},{"t":12,"n":21,"v":0.05},{"t":13,"n":21,"v":0.05},{"t":14,"n":21,"v":0.05},{"t":15,"n":21,"v":0.05},{"t":16,"n":21,"v":-0.1},{"t":17,"n":21,"v":0.05},{"t":18,"n":21,"v":0.05},{"t":19,"n":21,"v":-0.15},{"t":20,"n":21,"v":0.05},{"t":21,"n":21,"v":0.05},{"t":22,"n":21,"v":0.05},{"t":23,"n":21,"v":-0.15},{"t":24,"n":21,"v":0.05},
{"t":1,"n":22,"v":0.3},{"t":2,"n":22,"v":0.05},{"t":3,"n":22,"v":0.3},{"t":4,"n":22,"v":0.3},{"t":5,"n":22,"v":0.3},{"t":6,"n":22,"v":0.3},{"t":7,"n":22,"v":0.3},{"t":8,"n":22,"v":0.3},{"t":9,"n":22,"v":0.3},{"t":10,"n":22,"v":0.3},{"t":11,"n":22,"v":0.3},{"t":12,"n":22,"v":0.3},{"t":13,"n":22,"v":0.3},{"t":14,"n":22,"v":0.3},{"t":15,"n":22,"v":0.3},{"t":16,"n":22,"v":0.05},{"t":17,"n":22,"v":0.3},{"t":18,"n":22,"v":0.3},{"t":19,"n":22,"v":0.05},{"t":20,"n":22,"v":0.3},{"t":21,"n":22,"v":0.3},{"t":22,"n":22,"v":0.3},{"t":23,"n":22,"v":0},{"t":24,"n":22,"v":0.3},
{"t":1,"n":23,"v":0.05},{"t":2,"n":23,"v":0.05},{"t":3,"n":23,"v":0.05},{"t":4,"n":23,"v":0.05},{"t":5,"n":23,"v":0.05},{"t":6,"n":23,"v":0.05},{"t":7,"n":23,"v":0.05},{"t":8,"n":23,"v":0.05},{"t":9,"n":23,"v":0.05},{"t":10,"n":23,"v":0.05},{"t":11,"n":23,"v":0.05},{"t":12,"n":23,"v":0.05},{"t":13,"n":23,"v":0.05},{"t":14,"n":23,"v":0.05},{"t":15,"n":23,"v":0.05},{"t":16,"n":23,"v":0.05},{"t":17,"n":23,"v":0.05},{"t":18,"n":23,"v":0.05},{"t":19,"n":23,"v":0},{"t":20,"n":23,"v":0.05},{"t":21,"n":23,"v":0.05},{"t":22,"n":23,"v":0.05},{"t":23,"n":23,"v":0},{"t":24,"n":23,"v":0.05}
]
},
"spacing":18,
"resolve":{"scale":{"color":"independent"},"legend":{"color":"independent"}},
"hconcat":[
{
 "width":288,"height":253,
 "title":{"text":["(a) Segment of (normalized) congestion ma-","trix 𝐒(ℎ)."],"orient":"bottom","anchor":"start","frame":"bounds","offset":-5},
 "resolve":{"scale":{"x":"independent","y":"independent"}},
 "layer":[
  {"data":{"name":"L"},"mark":{"type":"rect"},
   "encoding":{
    "x":{"field":"t","type":"ordinal","scale":{"paddingInner":0,"paddingOuter":0},"axis":{"values":[5,10,15,20],"title":"Time instances","titleX":162,"titleY":28,"titleBaseline":"alphabetic"}},
    "y":{"field":"n","type":"ordinal","scale":{"paddingInner":0,"paddingOuter":0},"axis":{"values":[2,4,6,8,10,12,14,16,18,20,22],"title":"Nodes"}},
    "color":{"field":"v","type":"quantitative","scale":{"domain":[-1,-0.75,-0.5,-0.25,0,0.25,0.5,0.75,1],"range":["#352a87","#0f5cdd","#1481d6","#06a4ca","#2eb7a4","#87bf77","#d1bb59","#fec832","#f9fb0e"]},
     "legend":{"title":null,"orient":"right","direction":"vertical","offset":9,"padding":0,"gradientLength":253,"gradientThickness":19,"gradientStrokeColor":"#777777","gradientStrokeWidth":1,"values":[-1,-0.8,-0.6,-0.4,-0.2,0,0.2,0.4,0.6,0.8,1],"format":".1~f","labelExpr":"replace(datum.label,'\u2212','-')","labelFont":"Liberation Sans","labelFontSize":11,"labelColor":"#444444","labelOffset":5,"labelOverlap":false,"labelBaseline":"middle"}}
   }},
  {"data":{"values":[{"x0":1.47,"x1":2.39,"y0":0.32,"y1":23.5},{"x0":5.17,"x1":6.08,"y0":0.32,"y1":23.5},{"x0":15.47,"x1":16.42,"y0":0.32,"y1":23.5}]},
   "mark":{"type":"rect","filled":false,"stroke":"#f42a2a","strokeWidth":1.5,"clip":false},
   "encoding":{
    "x":{"field":"x0","type":"quantitative","scale":{"domain":[0.5,24.5],"nice":false,"zero":false},"axis":null},"x2":{"field":"x1"},
    "y":{"field":"y0","type":"quantitative","scale":{"domain":[0.5,23.5],"nice":false,"zero":false,"reverse":true},"axis":null},"y2":{"field":"y1"}}},
  {"data":{"values":[{"x0":1.9,"y0":23.98,"x1":3.34,"y1":26.6},{"x0":5.79,"y0":23.98,"x1":5.79,"y1":26.6},{"x0":14.71,"y0":23.83,"x1":8.03,"y1":26.78}]},
   "mark":{"type":"rule","stroke":"#f42a2a","strokeWidth":1.5,"clip":false},
   "encoding":{
    "x":{"field":"x0","type":"quantitative","scale":{"domain":[0.5,24.5],"nice":false,"zero":false},"axis":null},"x2":{"field":"x1"},
    "y":{"field":"y0","type":"quantitative","scale":{"domain":[0.5,23.5],"nice":false,"zero":false,"reverse":true},"axis":null},"y2":{"field":"y1"}}},
  {"data":{"values":[{"x":2.09,"y":24.28}]},
   "mark":{"type":"point","shape":"triangle-up","filled":true,"color":"#f42a2a","opacity":1,"size":70,"angle":329,"clip":false},
   "encoding":{
    "x":{"field":"x","type":"quantitative","scale":{"domain":[0.5,24.5],"nice":false,"zero":false},"axis":null},
    "y":{"field":"y","type":"quantitative","scale":{"domain":[0.5,23.5],"nice":false,"zero":false,"reverse":true},"axis":null}}},
  {"data":{"values":[{"x":5.79,"y":24.34}]},
   "mark":{"type":"point","shape":"triangle-up","filled":true,"color":"#f42a2a","opacity":1,"size":70,"angle":0,"clip":false},
   "encoding":{
    "x":{"field":"x","type":"quantitative","scale":{"domain":[0.5,24.5],"nice":false,"zero":false},"axis":null},
    "y":{"field":"y","type":"quantitative","scale":{"domain":[0.5,23.5],"nice":false,"zero":false,"reverse":true},"axis":null}}},
  {"data":{"values":[{"x":14.4,"y":23.96}]},
   "mark":{"type":"point","shape":"triangle-up","filled":true,"color":"#f42a2a","opacity":1,"size":70,"angle":68,"clip":false},
   "encoding":{
    "x":{"field":"x","type":"quantitative","scale":{"domain":[0.5,24.5],"nice":false,"zero":false},"axis":null},
    "y":{"field":"y","type":"quantitative","scale":{"domain":[0.5,23.5],"nice":false,"zero":false,"reverse":true},"axis":null}}}
 ]
},
{
 "width":288,"height":253,
 "title":{"text":["(b) Segment of (normalized) recovered con-","gestion matrix S̃(ℎ) ."],"orient":"bottom","anchor":"start","frame":"bounds","offset":3},
 "resolve":{"scale":{"x":"independent","y":"independent"}},
 "layer":[
  {"data":{"name":"R"},"mark":{"type":"rect"},
   "encoding":{
    "x":{"field":"t","type":"ordinal","scale":{"paddingInner":0,"paddingOuter":0},"axis":{"values":[5,10,15,20],"title":"Time instances","titleX":146,"titleY":25,"titleBaseline":"alphabetic"}},
    "y":{"field":"n","type":"ordinal","scale":{"paddingInner":0,"paddingOuter":0},"axis":{"values":[2,4,6,8,10,12,14,16,18,20,22],"title":"Nodes"}},
    "color":{"field":"v","type":"quantitative","scale":{"domain":[-1,-0.75,-0.5,-0.25,0,0.25,0.5,0.75,1],"range":["#352a87","#0f5cdd","#1481d6","#06a4ca","#2eb7a4","#87bf77","#d1bb59","#fec832","#f9fb0e"]},
     "legend":{"title":null,"orient":"right","direction":"vertical","offset":11,"padding":0,"gradientLength":253,"gradientThickness":20,"gradientStrokeColor":"#777777","gradientStrokeWidth":1,"values":[-1,-0.8,-0.6,-0.4,-0.2,0,0.2,0.4,0.6,0.8,1],"format":".1~f","labelExpr":"replace(datum.label,'\u2212','-')","labelFont":"Liberation Sans","labelFontSize":11,"labelColor":"#444444","labelOffset":5,"labelOverlap":false,"labelBaseline":"middle"}}
   }},
  {"data":{"values":[{"x0":1.48,"x1":2.45,"y0":0.38,"y1":23.65},{"x0":5.06,"x1":6.02,"y0":0.38,"y1":23.65},{"x0":15.54,"x1":16.44,"y0":0.38,"y1":23.65}]},
   "mark":{"type":"rect","filled":false,"stroke":"#f42a2a","strokeWidth":1.5,"clip":false},
   "encoding":{
    "x":{"field":"x0","type":"quantitative","scale":{"domain":[0.5,24.5],"nice":false,"zero":false},"axis":null},"x2":{"field":"x1"},
    "y":{"field":"y0","type":"quantitative","scale":{"domain":[0.5,23.5],"nice":false,"zero":false,"reverse":true},"axis":null},"y2":{"field":"y1"}}}
 ]
}
]
}
